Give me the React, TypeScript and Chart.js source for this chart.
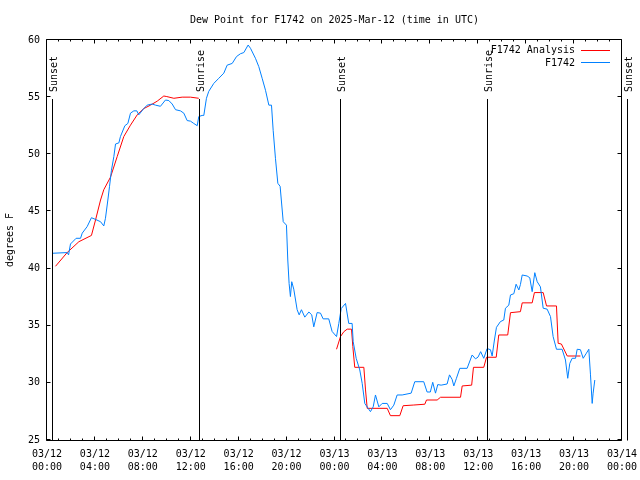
import React, { useEffect, useRef } from "react";
import { Chart, registerables } from "chart.js";

Chart.register(...registerables);

const TITLE = "Dew Point for F1742 on 2025-Mar-12 (time in UTC)";
const Y_TITLE = "degrees F";
const SERIES_NAMES = ["F1742 Analysis", "F1742"];
const SERIES_COLORS = ["#ff0000", "#0080ff"];
const FONT = "'DejaVu Sans Mono', 'Liberation Mono', monospace";

// hours since 03/12 00:00 UTC
const obsHours = [
  0.48, 1.68, 1.8, 1.96, 2.43, 2.8, 2.94, 3.35, 3.71, 4.05, 4.47, 4.74, 4.88, 5.08, 5.22, 5.38, 5.58, 5.72, 6.0,
  6.13, 6.5, 6.75, 6.97, 7.25, 7.5, 7.66, 8.08, 8.36, 8.78, 9.06, 9.47, 9.89, 10.17, 10.45, 10.73, 11.14, 11.42,
  11.7, 11.98, 12.25, 12.54, 12.67, 12.95, 13.09, 13.31, 13.5, 13.92, 14.34, 14.76, 15.04, 15.46, 15.82, 16.15,
  16.43, 16.79, 16.99, 17.4, 17.68, 17.96, 18.24, 18.52, 18.74, 18.88, 19.07, 19.27, 19.46, 19.72, 19.99, 20.1,
  20.21, 20.32, 20.43, 20.6, 20.88, 21.05, 21.24, 21.52, 21.86, 22.1, 22.27, 22.55, 22.83, 23.05, 23.52, 23.8,
  24.17, 24.36, 24.56, 24.92, 25.19, 25.47, 25.56, 25.81, 26.11, 26.31, 26.53, 26.81, 27.0, 27.23, 27.42, 27.7,
  27.98, 28.4, 28.67, 28.95, 29.23, 29.65, 30.4, 30.7, 31.45, 31.73, 32.0, 32.2, 32.43, 32.62, 32.9, 33.4, 33.6,
  33.82, 33.96, 34.18, 34.46, 35.07, 35.49, 35.77, 35.98, 36.2, 36.46, 36.74, 37.02, 37.16, 37.35, 37.52, 37.85,
  38.13, 38.27, 38.55, 38.69, 38.97, 39.16, 39.39, 39.52, 39.67, 40.08, 40.3, 40.5, 40.72, 40.92, 41.19, 41.42,
  41.75, 42.03, 42.25, 42.53, 43.0, 43.28, 43.47, 43.64, 43.84, 44.12, 44.26, 44.53, 44.76, 45.03, 45.23, 45.37,
  45.51, 45.59, 45.73,
];
const obsValues = [
  41.34, 41.4, 41.2, 42.15, 42.65, 42.65, 43.1, 43.67, 44.45, 44.3, 44.1, 43.73, 44.4, 46.0, 47.2, 48.6, 49.8, 50.9, 51.0,
  51.55, 52.5, 52.7, 53.6, 53.8, 53.8, 53.45, 54.0, 54.3, 54.4, 54.3, 54.2, 54.75, 54.7, 54.4, 53.9, 53.8, 53.6,
  52.95, 52.9, 52.7, 52.5, 53.3, 53.4, 53.4, 54.9, 55.5, 56.2, 56.65, 57.1, 57.8, 57.95, 58.55, 58.8,
  58.9, 59.56, 59.27, 58.4, 57.67, 56.65, 55.6, 54.3, 54.3, 52.1, 49.65, 47.46, 47.2, 44.1, 43.8, 40.75,
  38.7, 37.55, 38.85, 38.2, 36.4, 35.95, 36.4, 35.75, 36.2, 35.95, 34.9, 36.15, 36.1, 35.6, 35.6, 34.5,
  34.05, 35.2, 36.5, 36.95, 35.2, 35.2, 33.6, 32.15, 31.13, 29.96, 28.2, 27.77, 27.48, 27.9, 28.94, 27.9,
  28.2, 28.2, 27.65, 28.05, 28.94, 28.94, 29.1, 30.1, 30.1, 29.2, 29.2, 30.05, 29.1, 29.85, 29.8, 29.9, 30.7,
  30.3, 29.73, 30.4, 31.27, 31.27, 32.44, 32.1, 32.25, 32.73, 32.15, 33.0, 32.9, 32.35, 33.75, 34.86, 35.36,
  35.5, 36.53, 36.8, 37.69, 37.8, 38.63, 38.13, 38.6, 39.44, 39.35, 39.2, 37.98, 39.64, 38.85, 38.4, 36.53,
  36.45, 35.8, 34.05, 32.94, 32.94, 32.0, 30.4, 31.7, 32.15, 32.15, 32.94, 32.9, 32.15, 32.6, 32.94, 30.7,
  28.2, 29.1, 30.25,
];

const anaHours = [
  0.71, 1.68, 2.66, 3.71, 4.05, 4.47, 4.74, 5.3, 5.86, 6.41, 6.97, 7.53, 8.08, 8.64, 9.2, 9.75, 10.0, 10.59,
  11.28, 11.98, 12.67, 18.0, 24.17, 24.5, 24.78, 25.06, 25.42, 25.53, 25.69, 26.45, 26.59, 26.73, 28.4, 28.67,
  29.45, 29.73, 30.62, 31.54, 31.68, 32.57, 32.85, 34.52, 34.66, 35.45, 35.6, 36.46, 36.69, 37.5, 37.71, 38.46,
  38.69, 39.52, 39.67, 40.5, 40.69, 41.42, 41.7, 42.53, 42.67, 42.94, 43.43, 44.53,
];
const anaValues = [
  40.2, 41.4, 42.35, 42.9, 44.25, 46.0, 46.9, 48.0, 49.8, 51.55, 52.55, 53.45, 54.0, 54.3, 54.65, 55.1, 55.05, 54.9,
  55.0, 55.0, 54.9, null, 32.94, 34.05, 34.48, 34.7, 34.7, 33.17, 31.36, 31.36, 29.38, 27.77, 27.77, 27.13,
  27.13, 28.0, 28.06, 28.13, 28.5, 28.5, 28.74, 28.74, 29.73, 29.8, 31.36, 31.36, 32.24, 32.24, 34.19, 34.19,
  36.14, 36.23, 37.0, 37.0, 37.9, 37.9, 36.73, 36.73, 33.46, 33.4, 32.35, 32.35,
];

const eventLabels = ["Sunset", "Sunrise", "Sunset", "Sunrise", "Sunset"];
const eventHours = [0.48, 12.79, 24.52, 36.8, 48.51];

const dayLabels = ["03/12", "03/13", "03/14"];
const X_MIN = 0;
const X_MAX = 48;
const Y_MIN = 25;
const Y_MAX = 60;
const X_MAJOR = 4;
const Y_STEP = 5;

const overlayPlugin = {
  id: "gnuOverlay",
  afterDraw(chart: any) {
    const { ctx, chartArea: a } = chart;
    const xs = chart.scales.x;
    const ys = chart.scales.y;
    ctx.save();
    ctx.strokeStyle = "#000";
    ctx.fillStyle = "#000";
    ctx.lineWidth = 1;
    const L = a.left - 0.5;
    const R = a.right - 0.5;
    const T = a.top - 0.5;
    const B = a.bottom + 0.5;
    ctx.beginPath();
    ctx.rect(L, T, R - L, B - T);
    ctx.stroke();
    // x ticks (inward, top and bottom)
    ctx.beginPath();
    xs.ticks.forEach((t: any) => {
      const px = Math.round(xs.getPixelForValue(t.value)) - 0.5;
      const len = t.value % X_MAJOR === 0 ? 4 : 2;
      ctx.moveTo(px, B);
      ctx.lineTo(px, B - len);
      ctx.moveTo(px, T);
      ctx.lineTo(px, T + len);
    });
    ys.ticks.forEach((t: any) => {
      const py = Math.round(ys.getPixelForValue(t.value)) - 0.5;
      ctx.moveTo(L, py);
      ctx.lineTo(L + 4, py);
      ctx.moveTo(R, py);
      ctx.lineTo(R - 4, py);
    });
    ctx.stroke();
    // sunrise / sunset markers
    ctx.font = `10px ${FONT}`;
    eventHours.forEach((h, i) => {
      const px = Math.round(xs.getPixelForValue(h)) - 0.5;
      ctx.beginPath();
      ctx.moveTo(px, a.top + 59);
      ctx.lineTo(px, B);
      ctx.stroke();
      ctx.save();
      ctx.translate(px + 1.5, a.top + 52);
      ctx.rotate(-Math.PI / 2);
      ctx.textAlign = "left";
      ctx.textBaseline = "middle";
      ctx.fillText(eventLabels[i], 0, 0);
      ctx.restore();
    });
    // legend
    ctx.textAlign = "right";
    ctx.textBaseline = "middle";
    SERIES_NAMES.forEach((name, i) => {
      const lineY = a.top + 10.5 + i * 12;
      ctx.fillStyle = "#000";
      ctx.fillText(name, a.right - 47, lineY + i * 0.5);
      ctx.save();
      ctx.strokeStyle = SERIES_COLORS[i];
      ctx.lineWidth = 1;
      ctx.beginPath();
      ctx.moveTo(a.right - 41, lineY);
      ctx.lineTo(a.right - 12, lineY);
      ctx.stroke();
      ctx.restore();
    });
    ctx.restore();
  },
};

export default function App() {
  const ref = useRef<HTMLCanvasElement | null>(null);
  useEffect(() => {
    document.body.style.margin = "0";
    const canvas = ref.current;
    if (!canvas) return;
    Chart.defaults.color = "#000";
    const chart = new Chart(canvas, {
      type: "line",
      data: {
        datasets: [
          {
            label: SERIES_NAMES[0],
            data: anaHours.map((h, i) => ({ x: h, y: anaValues[i] })),
            borderColor: SERIES_COLORS[0],
            backgroundColor: SERIES_COLORS[0],
            borderWidth: 1,
            pointRadius: 0,
            tension: 0,
            spanGaps: false,
            order: 1,
          },
          {
            label: SERIES_NAMES[1],
            data: obsHours.map((h, i) => ({ x: h, y: obsValues[i] })),
            borderColor: SERIES_COLORS[1],
            backgroundColor: SERIES_COLORS[1],
            borderWidth: 1,
            pointRadius: 0,
            tension: 0,
            order: 0,
          },
        ],
      },
      options: {
        animation: false,
        responsive: false,
        devicePixelRatio: 1,
        events: [],
        layout: { padding: { left: 0, right: 18, top: 0, bottom: 0 } },
        plugins: {
          legend: { display: false },
          tooltip: { enabled: false },
          title: {
            display: true,
            text: TITLE,
            color: "#000",
            fullSize: false,
            font: { family: FONT, size: 10, weight: "normal", lineHeight: "13px" },
            padding: { top: 14, bottom: 13 },
          },
        },
        scales: {
          x: {
            type: "linear",
            min: X_MIN,
            max: X_MAX,
            border: { display: false },
            grid: { display: false, drawTicks: false },
            ticks: {
              stepSize: 1,
              autoSkip: false,
              maxRotation: 0,
              minRotation: 0,
              padding: 8,
              color: "#000",
              font: { family: FONT, size: 10, lineHeight: 1.3 },
              callback: (v: any) => {
                const h = Number(v);
                if (h % X_MAJOR !== 0) return "";
                const day = dayLabels[Math.floor(h / 24)];
                const hh = String(h % 24).padStart(2, "0");
                return [day, hh + ":00"];
              },
            },
            afterFit: (s: any) => {
              s.height = 40;
              s.paddingLeft = 0;
              s.paddingRight = 0;
            },
          },
          y: {
            type: "linear",
            min: Y_MIN,
            max: Y_MAX,
            border: { display: false },
            grid: { display: false, drawTicks: false },
            ticks: {
              stepSize: Y_STEP,
              padding: 7,
              color: "#000",
              font: { family: FONT, size: 10 },
            },
            title: {
              display: true,
              text: Y_TITLE,
              color: "#000",
              font: { family: FONT, size: 10 },
              padding: { top: 4, bottom: 0 },
            },
            afterFit: (s: any) => {
              s.width = 47;
              s.paddingTop = 0;
              s.paddingBottom = 0;
            },
          },
        },
      },
      plugins: [overlayPlugin],
    } as any);
    return () => chart.destroy();
  }, []);
  return (
    <div style={{ width: 640, height: 480 }}>
      <canvas ref={ref} width={640} height={480} style={{ display: "block" }} />
    </div>
  );
}
